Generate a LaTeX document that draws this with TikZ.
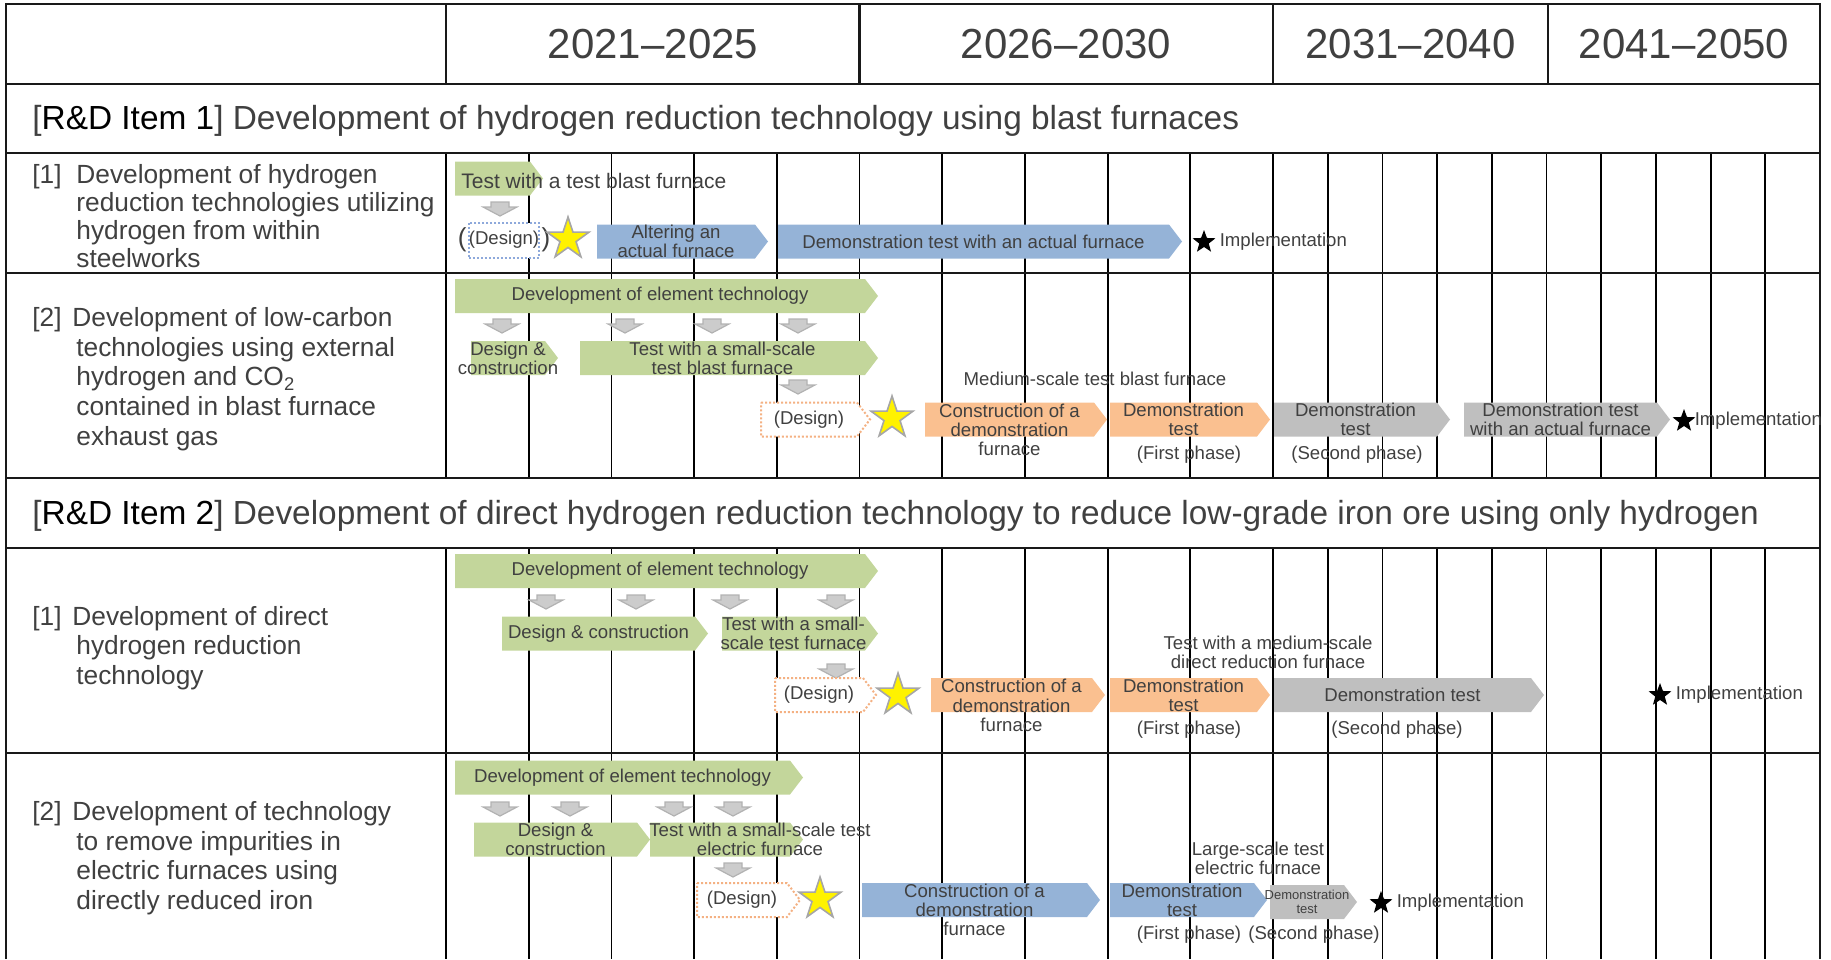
\documentclass[tikz,border=0pt]{standalone}
\usepackage{fontspec}
\setmainfont{Liberation Sans}
\usetikzlibrary{shapes.geometric,positioning}

\definecolor{inkgray}{HTML}{404040}
\definecolor{leafgreen}{HTML}{C3D69B}
\definecolor{steelblue}{HTML}{95B3D7}
\definecolor{peach}{HTML}{FAC090}
\definecolor{ashgray}{HTML}{BFBFBF}
\definecolor{dotorange}{HTML}{F4B183}
\definecolor{dotblue}{HTML}{8EA9DB}

\tikzset{
  gridline/.style={line width=0.9pt},
  rule/.style={line width=1.4pt, draw=black!90},
  bartxt/.style={text=inkgray, align=center, inner sep=0pt, font=\fontsize{9.3}{9.6}\selectfont},
  freetxt/.style={bartxt},
  yeartxt/.style={text=inkgray, font=\fontsize{21}{25}\selectfont},
  itemtxt/.style={text=inkgray, anchor=west, inner sep=0pt, font=\fontsize{16.7}{19}\selectfont},
  lefttxt/.style={text=inkgray, anchor=west, inner sep=0pt, font=\fontsize{13.15}{14.95}\selectfont},
  ystar/.style={star, star points=5, star point ratio=2.6, fill=yellow, draw=black!35, line width=0.8pt, minimum size=22pt, inner sep=0pt},
  bstar/.style={star, star points=5, star point ratio=2.4, fill=black, minimum size=12pt, inner sep=0pt},
  designbox/.style={fill=white, draw=dotorange, densely dotted, line width=1pt},
  darr/.pic={\path[fill=black!20, draw=black!30, line width=0.6pt] (-9,-7) -- (9,-7) -- (9,-2) -- (17,-2) -- (0,7) -- (-17,-2) -- (-9,-2) -- cycle;}
}

% #1 node options, #2 name, #3 fill, #4 left x, #5 tip x, #6 centre y, #7 text
\newcommand{\phasebar}[7][]{%
  \path[#3] (#4,#6-17) -- (#5-13,#6-17) -- (#5,#6) -- (#5-13,#6+17) -- (#4,#6+17) -- cycle;
  \node[bartxt,#1] (#2) at ({(#4+#5-13)/2},#6) {#7};}

\begin{document}
\begin{tikzpicture}[x=0.5pt,y=-0.5pt]
\useasboundingbox (0,0) rectangle (1831,959);

% yearly grid
\foreach \i in {0,...,10}
  \draw[gridline] (446+82.7*\i,153) -- (446+82.7*\i,478) (446+82.7*\i,548) -- (446+82.7*\i,959);
\foreach \i in {1,...,9}
  \draw[gridline] (1273+54.7*\i,153) -- (1273+54.7*\i,478) (1273+54.7*\i,548) -- (1273+54.7*\i,959);

% frame and row rules
\draw[rule] (6,959) -- (6,4) -- (1820,4) -- (1820,959);
\foreach \y in {84,153,273,478,548,753}
  \draw[rule] (6,\y) -- (1820,\y);
\draw[rule] (446,4) -- (446,84) (859.5,4) -- (859.5,84) (1273,4) -- (1273,84) (1548,4) -- (1548,84);

\node[yeartxt] (y1) at (653,44) {2021–2025};
\node[yeartxt] (y2) at (1066,44) {2026–2030};
\node[yeartxt] (y3) at (1410.5,44) {2031–2040};
\node[yeartxt] (y4) at (1684,44) {2041–2050};

\node[itemtxt] (item1) at (32,121) {[\textcolor{black}{R\&D Item 1}] Development of hydrogen reduction technology using blast furnaces};
\node[itemtxt] (item2) at (32,516) {[\textcolor{black}{R\&D Item 2}] Development of direct hydrogen reduction technology to reduce low-grade iron ore using only hydrogen};

\node[lefttxt, font=\fontsize{13.15}{13.9}\selectfont] (t11) at (32,220) {\begin{tabular}{@{}p{22pt}@{}l@{}}
  [1]&Development of hydrogen\\&reduction technologies utilizing\\&hydrogen from within\\&steelworks\end{tabular}};
\node[lefttxt] (t12) at (32,380) {\begin{tabular}{@{}p{20pt}@{}l@{}}
  [2]&Development of low-carbon\\&\hspace{2pt}technologies using external\\&\hspace{2pt}hydrogen and CO\textsubscript{2}\\&\hspace{2pt}contained in blast furnace\\&\hspace{2pt}exhaust gas\end{tabular}};
\node[lefttxt] (t21) at (32,649) {\begin{tabular}{@{}p{20pt}@{}l@{}}
  [1]&Development of direct\\&\hspace{2pt}hydrogen reduction\\&\hspace{2pt}technology\end{tabular}};
\node[lefttxt] (t22) at (32,859) {\begin{tabular}{@{}p{20pt}@{}l@{}}
  [2]&Development of technology\\&\hspace{2pt}to remove impurities in\\&\hspace{2pt}electric furnaces using\\&\hspace{2pt}directly reduced iron\end{tabular}};

% item 1 [1]
\phasebar{a1}{fill=leafgreen}{455}{543}{178.5}{}
\node[freetxt, anchor=west, font=\fontsize{10.5}{12}\selectfont] (a1t) at (461,181) {Test with a test blast furnace};
\pic (a1d) at (500,209) {darr};
\node[bartxt, draw=dotblue, densely dotted, line width=1pt, fill=white, minimum width=29.5pt, minimum height=17.5pt] (a1g) at (504,240) {(Design)};
\node[text=black!75, inner sep=0.5pt, anchor=east, font=\fontsize{13}{13}\selectfont] (a1l) at (a1g.west) {(};
\node[text=black!75, inner sep=0.5pt, anchor=west, font=\fontsize{13}{13}\selectfont] (a1r) at (a1g.east) {)};
\node[ystar] (a1s) at (568,239) {};
\phasebar{a2}{fill=steelblue}{597}{768}{241.5}{Altering an\\actual furnace}
\phasebar{a3}{fill=steelblue}{778}{1182}{241.5}{Demonstration test with an actual furnace}
\node[bstar] (a3s) at (1204,242) {};
\node[freetxt, right=4pt of a3s] (a3i) {Implementation};

% item 1 [2]
\phasebar{b1}{fill=leafgreen}{455}{878}{296}{Development of element technology}
\pic (b1d) at (502,326) {darr};
\pic (b2d) at (625,326) {darr};
\pic (b3d) at (712,326) {darr};
\pic (b4d) at (798,326) {darr};
\phasebar{b2}{fill=leafgreen}{471}{558}{358}{Design \&\\construction}
\phasebar{b3}{fill=leafgreen}{580}{878}{358}{Test with a small-scale\\test blast furnace}
\pic (b5d) at (798,387) {darr};
\phasebar{b4}{designbox}{761}{870}{419.5}{(Design)}
\node[ystar] (b4s) at (892,418) {};
\node[freetxt] (b5t) at (1095,379) {Medium-scale test blast furnace};
\phasebar[yshift=-5.2pt]{b5}{fill=peach}{925}{1107}{419.5}{Construction of a\\demonstration\\furnace}
\phasebar{b6}{fill=peach}{1110}{1270}{419.5}{Demonstration\\test}
\node[freetxt] (b6p) at (1189,455) {(First phase)};
\phasebar{b7}{fill=ashgray}{1274}{1450}{419.5}{Demonstration\\test}
\node[freetxt] (b7p) at (1357,455) {(Second phase)};
\phasebar{b8}{fill=ashgray}{1464}{1670}{419.5}{Demonstration test\\with an actual furnace}
\node[bstar] (b8s) at (1684,421) {};
\node[freetxt, right=1.5pt of b8s] (b8i) {Implementation};

% item 2 [1]
\phasebar{c1}{fill=leafgreen}{455}{878}{571}{Development of element technology}
\pic (c1d) at (546,602) {darr};
\pic (c2d) at (636,602) {darr};
\pic (c3d) at (730,602) {darr};
\pic (c4d) at (836,602) {darr};
\phasebar{c2}{fill=leafgreen}{502}{708}{633.5}{Design \& construction}
\phasebar{c3}{fill=leafgreen}{722}{878}{633.5}{Test with a small-\\scale test furnace}
\pic (c5d) at (836,671) {darr};
\phasebar{c4}{designbox}{775}{876}{695}{(Design)}
\node[ystar] (c4s) at (898,695) {};
\node[freetxt] (c5t) at (1268,652) {Test with a medium-scale\\direct reduction furnace};
\phasebar[yshift=-5.2pt]{c5}{fill=peach}{931}{1105}{695}{Construction of a\\demonstration\\furnace}
\phasebar{c6}{fill=peach}{1110}{1270}{695}{Demonstration\\test}
\node[freetxt] (c6p) at (1189,730) {(First phase)};
\phasebar{c7}{fill=ashgray}{1274}{1544}{695}{Demonstration test}
\node[freetxt] (c7p) at (1397,730) {(Second phase)};
\node[bstar] (c7s) at (1660,695) {};
\node[freetxt, right=4pt of c7s] (c7i) {Implementation};

% item 2 [2]
\phasebar{d1}{fill=leafgreen}{455}{803}{777.5}{Development of element technology}
\pic (d1d) at (500,809) {darr};
\pic (d2d) at (570,809) {darr};
\pic (d3d) at (674,809) {darr};
\pic (d4d) at (733,809) {darr};
\phasebar[xshift=20pt]{d3}{fill=leafgreen}{650}{803}{839.5}{Test with a small-scale test\\electric furnace}
\phasebar{d2}{fill=leafgreen}{474}{650}{839.5}{Design \&\\construction}
\pic (d5d) at (733,870) {darr};
\phasebar{d4}{designbox}{697}{800}{900}{(Design)}
\node[ystar] (d4s) at (820,899) {};
\phasebar[yshift=-5pt]{d5}{fill=steelblue}{862}{1100}{900}{Construction of a\\demonstration\\furnace}
\node[freetxt] (d5t) at (1258,858) {Large-scale test\\electric furnace};
\phasebar{d6}{fill=steelblue}{1110}{1267}{900}{Demonstration\\test}
\node[freetxt] (d6p) at (1189,935) {(First phase)};
\phasebar[font=\fontsize{6.5}{7}\selectfont]{d7}{fill=ashgray}{1270}{1357}{902}{Demonstration\\test}
\node[freetxt] (d7p) at (1314,935) {(Second phase)};
\node[bstar] (d7s) at (1381,903) {};
\node[freetxt, right=4pt of d7s] (d7i) {Implementation};
\end{tikzpicture}
\end{document}
